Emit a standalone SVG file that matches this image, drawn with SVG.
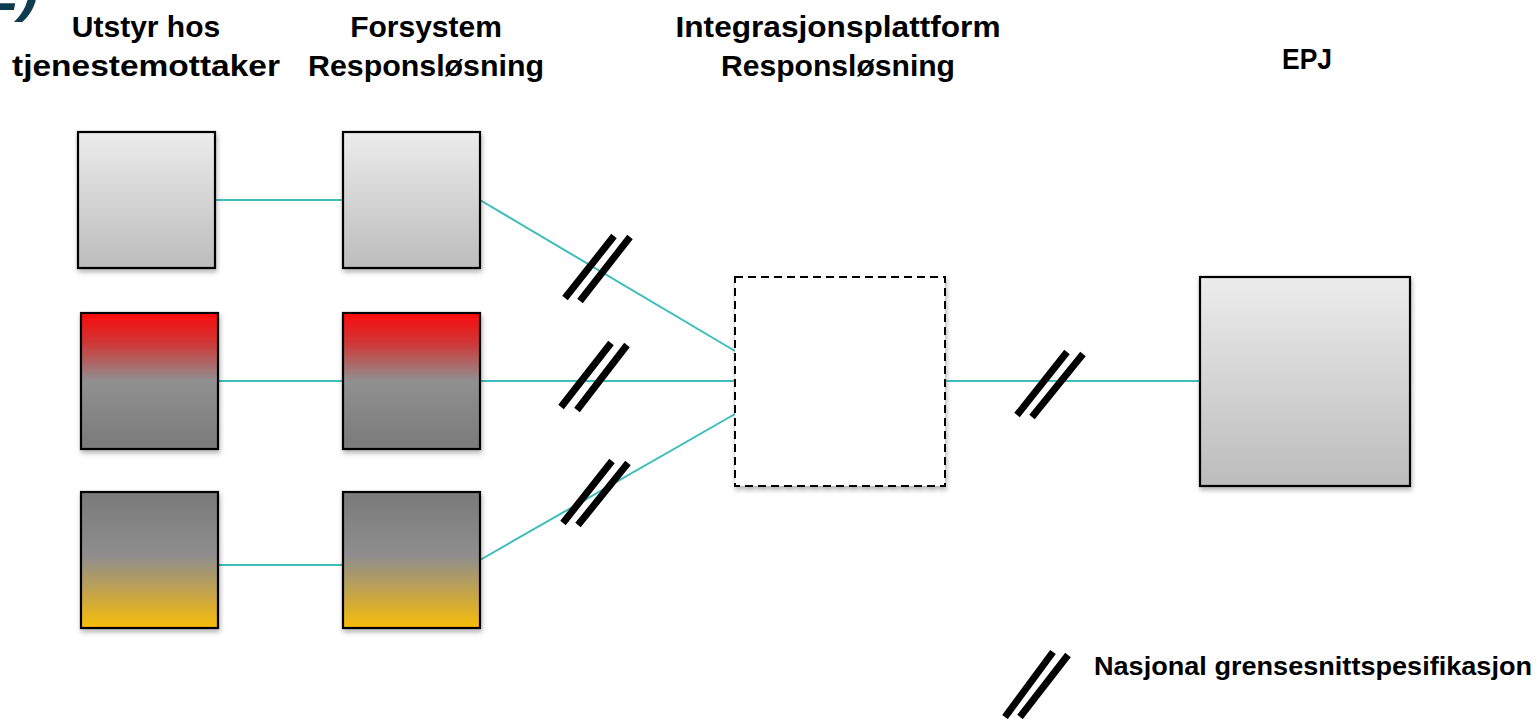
<svg xmlns="http://www.w3.org/2000/svg" width="1539" height="719" viewBox="0 0 1539 719">
<style>
.h{font-family:"Liberation Sans",Arial,sans-serif;font-weight:bold;font-size:30px;fill:#000;text-anchor:middle}
.box{stroke:#000;stroke-width:2.2;filter:url(#sh)}
.con{stroke:#3dbdbb;stroke-width:2;fill:none}
.sl{stroke:#000;stroke-width:7;stroke-linecap:butt}
</style>
<defs>
<filter id="sh" x="-10%" y="-10%" width="125%" height="125%">
<feDropShadow dx="1" dy="3" stdDeviation="2.5" flood-color="#000" flood-opacity="0.3"/>
</filter>
<linearGradient id="gGray" x1="0" y1="0" x2="0" y2="1">
<stop offset="0" stop-color="#ececec"/><stop offset="1" stop-color="#bcbcbc"/>
</linearGradient>
<linearGradient id="gRed" x1="0" y1="0" x2="0" y2="1">
<stop offset="0" stop-color="#fc0a0a"/><stop offset="0.22" stop-color="#d03636"/><stop offset="0.5" stop-color="#909090"/><stop offset="1" stop-color="#7a7a7a"/>
</linearGradient>
<linearGradient id="gYel" x1="0" y1="0" x2="0" y2="1">
<stop offset="0" stop-color="#7a7a7a"/><stop offset="0.47" stop-color="#8e8e8e"/><stop offset="0.72" stop-color="#bfa150"/><stop offset="1" stop-color="#f8be08"/>
</linearGradient>
</defs>
<rect width="1539" height="719" fill="#fff"/>
<text x="-14" y="10" font-family="Liberation Sans,Arial,sans-serif" font-weight="bold" font-style="italic" font-size="60" fill="#0f3b4f">2)</text>
<g id="headings">
<text class="h" x="146" y="37">Utstyr hos</text>
<text class="h" x="146" y="76" textLength="268" lengthAdjust="spacingAndGlyphs">tjenestemottaker</text>
<text class="h" x="426" y="37">Forsystem</text>
<text class="h" x="426" y="76" textLength="236" lengthAdjust="spacingAndGlyphs">Responsløsning</text>
<text class="h" x="838" y="37" textLength="325" lengthAdjust="spacingAndGlyphs">Integrasjonsplattform</text>
<text class="h" x="838" y="76" textLength="234" lengthAdjust="spacingAndGlyphs">Responsløsning</text>
<text class="h" x="1307" y="69" font-size="30" textLength="50" lengthAdjust="spacingAndGlyphs">EPJ</text>
</g>
<g id="connectors">
<line class="con" x1="215" y1="200" x2="343" y2="200"/>
<line class="con" x1="218" y1="381" x2="343" y2="381"/>
<line class="con" x1="218" y1="565" x2="343" y2="565"/>
<line class="con" x1="480" y1="200" x2="735" y2="351"/>
<line class="con" x1="480" y1="381" x2="735" y2="381"/>
<line class="con" x1="480" y1="560" x2="735" y2="414"/>
<line class="con" x1="945" y1="381" x2="1200" y2="381"/>
</g>
<g id="node-utstyr-1"><rect class="box" x="78" y="132" width="137" height="136" fill="url(#gGray)"/></g>
<g id="node-forsystem-1"><rect class="box" x="343" y="132" width="137" height="136" fill="url(#gGray)"/></g>
<g id="node-utstyr-2"><rect class="box" x="81" y="313" width="137" height="136" fill="url(#gRed)"/></g>
<g id="node-forsystem-2"><rect class="box" x="343" y="313" width="137" height="136" fill="url(#gRed)"/></g>
<g id="node-utstyr-3"><rect class="box" x="81" y="492" width="137" height="136" fill="url(#gYel)"/></g>
<g id="node-forsystem-3"><rect class="box" x="343" y="492" width="137" height="136" fill="url(#gYel)"/></g>
<g id="node-integrasjon"><rect x="735" y="277" width="210" height="209" fill="#fff" stroke="#000" stroke-width="2" stroke-dasharray="8,5" filter="url(#sh)"/></g>
<g id="node-epj"><rect class="box" x="1200" y="277" width="210" height="209" fill="url(#gGray)"/></g>
<g id="interface-marks">
<line class="sl" x1="565" y1="298" x2="614" y2="236"/>
<line class="sl" x1="580" y1="301" x2="630" y2="237"/>
<line class="sl" x1="561" y1="407" x2="611" y2="343"/>
<line class="sl" x1="577" y1="410" x2="627" y2="345"/>
<line class="sl" x1="563" y1="523" x2="612" y2="461"/>
<line class="sl" x1="578" y1="525" x2="628" y2="463"/>
<line class="sl" x1="1017" y1="415" x2="1067" y2="352"/>
<line class="sl" x1="1032" y1="417" x2="1083" y2="354"/>
</g>
<g id="legend">
<line class="sl" x1="1005" y1="717" x2="1053" y2="652"/>
<line class="sl" x1="1020" y1="717" x2="1068" y2="655"/>
<text x="1094" y="675" font-family="Liberation Sans,Arial,sans-serif" font-weight="bold" font-size="25" textLength="438" lengthAdjust="spacingAndGlyphs">Nasjonal grensesnittspesifikasjon</text>
</g>
</svg>
